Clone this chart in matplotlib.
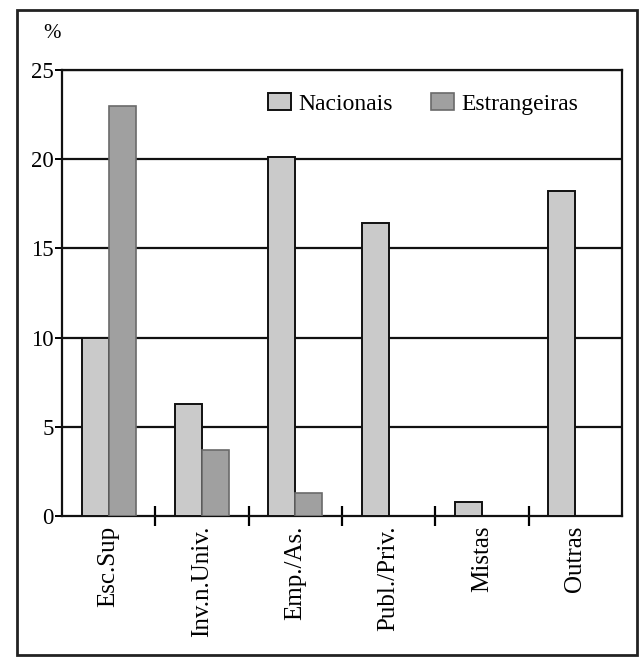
import matplotlib
matplotlib.use("Agg")
import matplotlib.pyplot as plt
from matplotlib.patches import Rectangle
import numpy as np

categories = ["Esc.Sup", "Inv.n.Univ.", "Emp./As.", "Publ./Priv.", "Mistas", "Outras"]
nacionais = [10.0, 6.3, 20.1, 16.4, 0.8, 18.2]
estrangeiras = [23.0, 3.7, 1.3, 0.0, 0.0, 0.0]
yticks = [0, 5, 10, 15, 20, 25]

plt.rcParams['font.family'] = ['Liberation Serif', 'DejaVu Serif']

fig = plt.figure(figsize=(6.42, 6.60), dpi=100)
ax = fig.add_axes([62/642, 1-516/660, (622-62)/642, (516-70)/660])

x = np.arange(len(categories))
w = 0.29
ax.bar(x - w/2, nacionais, width=w, color="#cacaca", edgecolor="#111111", linewidth=1.4,
       label="Nacionais", zorder=3)
est_vals = [v if v > 0 else np.nan for v in estrangeiras]
ax.bar(x + w/2, est_vals, width=w, color="#a0a0a0", edgecolor="#6a6a6a", linewidth=1.2,
       label="Estrangeiras", zorder=3)

ax.set_xlim(-0.5, len(categories) - 0.5)
ax.set_ylim(0, 25)
ax.set_yticks(yticks)
ax.set_yticklabels([str(t) for t in yticks], fontsize=16.5)
for t in yticks[1:]:
    ax.axhline(t, color="#111111", linewidth=1.6, zorder=1)

ax.set_xticks(x)
ax.set_xticklabels(categories, rotation=90, fontsize=18)
ax.tick_params(axis='x', which='major', length=0, pad=7)
ax.set_xticks(np.arange(0.5, len(categories) - 0.5, 1.0), minor=True)
ax.tick_params(axis='x', which='minor', length=14, width=1.6, direction='inout')
ax.tick_params(axis='y', length=5, width=1.4, direction='out', pad=1)

for s in ax.spines.values():
    s.set_linewidth(1.6)
    s.set_color("#111111")

leg = ax.legend(loc="upper right", bbox_to_anchor=(0.96, 0.996), ncol=2, frameon=False,
                fontsize=17, handlelength=1.0, handleheight=0.75, columnspacing=1.6,
                handletextpad=0.3)

fig.text(43/642, 1-33/660, "%", fontsize=15, ha='left', va='center')

fig.patches.append(Rectangle((17/642, 1-655/660), (637-17)/642, (655-10)/660,
                             transform=fig.transFigure, fill=False,
                             edgecolor="#222222", linewidth=2.0))

fig.savefig("out.png", dpi=100)
